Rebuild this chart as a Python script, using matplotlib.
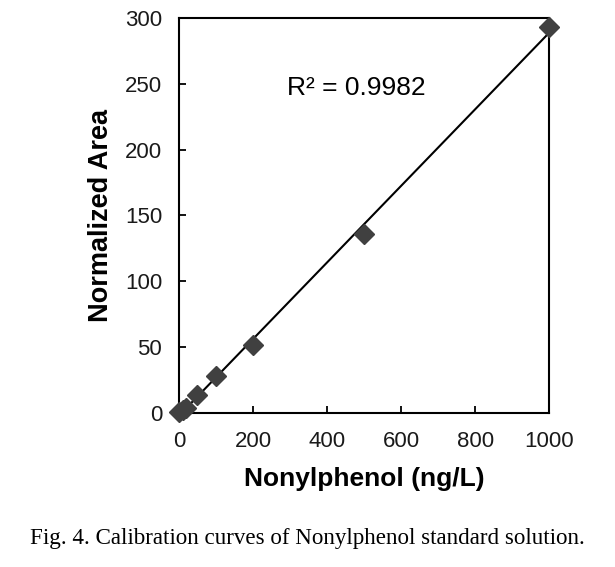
import numpy as np
import matplotlib.pyplot as plt

# calibration data
conc = [0, 10, 20, 50, 100, 200, 500, 1000]
area = [1, 2.5, 4, 14, 28, 52, 136, 293]
r2_text = 'R² = 0.9982'

plt.rcParams['font.family'] = ['Liberation Sans', 'DejaVu Sans']

fig = plt.figure(figsize=(6.15, 5.67), dpi=100)
ax = fig.add_axes([0.291, 0.2716, 0.602, 0.697])

# linear trendline
slope, intercept = np.polyfit(conc, area, 1)
xs = np.array([0, 1000])
ax.plot(xs, slope * xs + intercept, color='black', lw=1.5, zorder=2)
ax.plot(conc, area, linestyle='none', marker='D', markersize=10.5,
        color='#404040', zorder=3, clip_on=False)

ax.set_xlim(0, 1000)
ax.set_ylim(0, 300)
ax.set_xticks(range(0, 1001, 200))
ax.set_yticks(range(0, 301, 50))
for s in ax.spines.values():
    s.set_linewidth(1.5)
ax.tick_params(direction='in', length=5, width=1.3, labelsize=16,
               labelcolor='#1a1a1a')
ax.tick_params(axis='y', pad=12)
ax.tick_params(axis='x', pad=13)

ax.set_xlabel('Nonylphenol (ng/L)', fontsize=19, fontweight='bold', labelpad=11)
ax.set_ylabel('Normalized Area', fontsize=19.5, fontweight='bold', labelpad=8)
ax.text(292, 241.5, r2_text, fontsize=19, va='baseline')

fig.text(0.5, 0.051, 'Fig. 4. Calibration curves of Nonylphenol standard solution.',
         ha='center', va='center', fontsize=16.6, family='Liberation Serif')

fig.savefig('out.png', dpi=100)
